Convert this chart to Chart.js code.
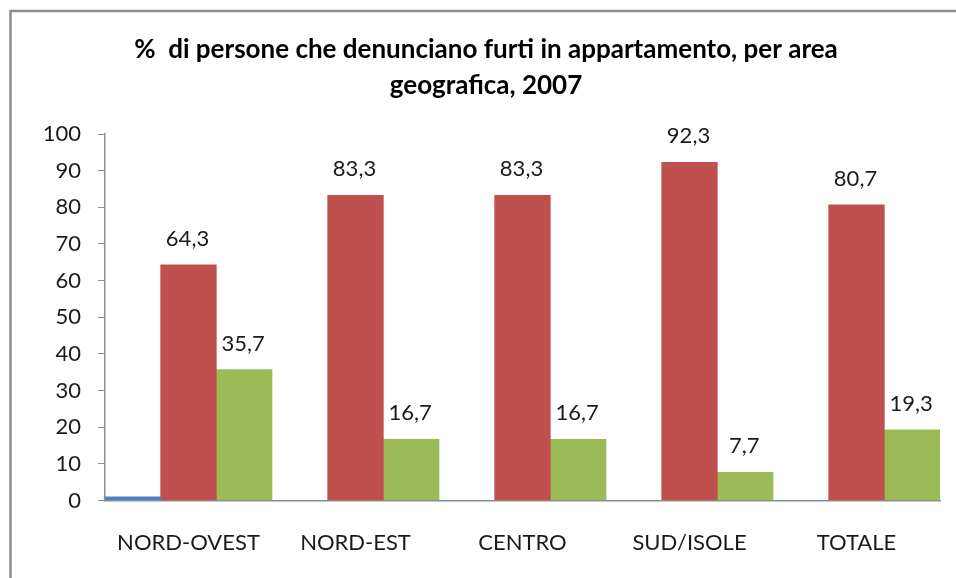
<!DOCTYPE html>
<html>
<head>
<meta charset="utf-8">
<script src="https://cdn.jsdelivr.net/npm/chart.js@4/dist/chart.umd.min.js"></script>
<style>
  html, body { margin: 0; padding: 0; background: #fff; }
  #wrap { position: absolute; left: 0; top: 0; width: 956px; height: 578px; }
</style>
</head>
<body>
<div id="wrap"><canvas id="c" width="956" height="578"></canvas></div>
<script>
const categories = ["NORD-OVEST", "NORD-EST", "CENTRO", "SUD/ISOLE", "TOTALE"];
const seriesBlue = [1, 0, 0, 0, 0];
const seriesRed = [64.3, 83.3, 83.3, 92.3, 80.7];
const seriesGreen = [35.7, 16.7, 16.7, 7.7, 19.3];
const yTicks = [0, 10, 20, 30, 40, 50, 60, 70, 80, 90, 100];
const titleLines = ["%  di persone che denunciano furti in appartamento, per area", "geografica, 2007"];

const FONT = "Lato, 'Liberation Sans', Arial, sans-serif";

const frame = {
  id: 'frame',
  beforeDraw(chart) {
    const ctx = chart.ctx;
    ctx.save();
    ctx.strokeStyle = '#8e8e8e';
    ctx.lineWidth = 2.5;
    ctx.beginPath();
    ctx.moveTo(10.5, 600);
    ctx.lineTo(10.5, 11);
    ctx.lineTo(980, 11);
    ctx.stroke();
    ctx.restore();
  }
};

const valueLabels = {
  id: 'valueLabels',
  afterDatasetsDraw(chart) {
    const ctx = chart.ctx;
    ctx.save();
    ctx.font = "22px " + FONT;
    ctx.fillStyle = '#1a1a1a';
    ctx.textAlign = 'center';
    ctx.textBaseline = 'alphabetic';
    [1, 2].forEach(di => {
      const meta = chart.getDatasetMeta(di);
      meta.data.forEach((bar, i) => {
        const v = chart.data.datasets[di].data[i];
        ctx.fillText(v.toFixed(1).replace('.', ','), bar.x - 1, bar.y - 19);
      });
    });
    ctx.restore();
  }
};

new Chart(document.getElementById('c'), {
  type: 'bar',
  data: {
    labels: categories,
    datasets: [
      { data: seriesBlue, backgroundColor: '#4F81BD' },
      { data: seriesRed, backgroundColor: '#C0504D' },
      { data: seriesGreen, backgroundColor: '#9BBB59' }
    ]
  },
  options: {
    responsive: false,
    animation: false,
    devicePixelRatio: 1,
    categoryPercentage: 1.0,
    barPercentage: 1.0,
    layout: { padding: { left: 16, right: 0, top: 0, bottom: 0 } },
    plugins: {
      legend: { display: false },
      tooltip: { enabled: false },
      title: {
        display: true,
        text: titleLines,
        color: '#000',
        font: { family: FONT, size: 26, weight: 'bold', lineHeight: 1.385 },
        padding: { top: 32, bottom: 30 }
      }
    },
    scales: {
      x: {
        afterFit(s) { s.height = 77.5; },
        grid: { display: true, drawOnChartArea: false, drawTicks: false, color: '#8e8e8e' },
        border: { display: true, color: '#8e8e8e', width: 1.5 },
        ticks: { color: '#1a1a1a', font: { family: FONT, size: 22 }, padding: 29 }
      },
      y: {
        min: 0,
        max: 100,
        afterFit(s) { s.width = 89; },
        afterBuildTicks(s) { s.ticks = yTicks.map(v => ({ value: v })); },
        grid: { display: true, drawOnChartArea: false, drawTicks: true, tickLength: 7, color: '#8e8e8e' },
        border: { display: true, color: '#8e8e8e', width: 1.5 },
        ticks: { color: '#1a1a1a', font: { family: FONT, size: 22 }, padding: 17 }
      },
      yRight: {
        position: 'right',
        min: 0,
        max: 100,
        afterFit(s) { s.width = 16; },
        grid: { display: false },
        border: { display: false },
        ticks: { display: false }
      }
    }
  },
  plugins: [frame, valueLabels]
});
</script>
</body>
</html>
